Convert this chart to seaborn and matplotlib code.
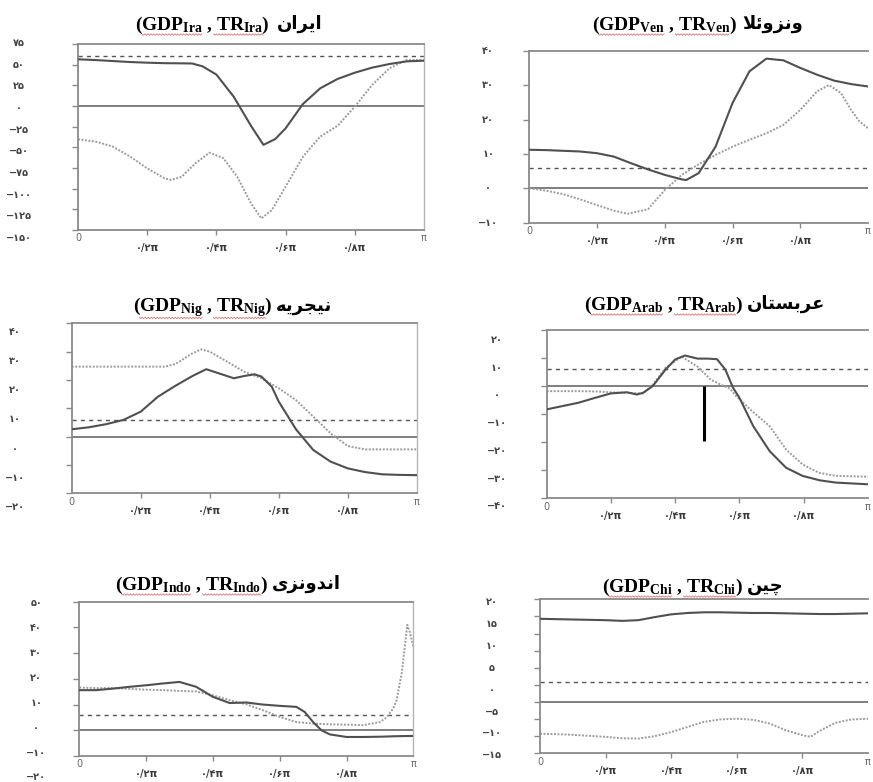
import matplotlib
matplotlib.use("Agg")
import matplotlib.pyplot as plt
from matplotlib.lines import Line2D
import seaborn as sns
import numpy as np

# ---------------- data (x in multiples of pi) ----------------
x_major_ticks = [0.2, 0.4, 0.6, 0.8]
x_end_ticks = [0.0, 1.0]
x_end_labels = ["0", "π"]

# Iran
iran_gdp_x = [0, 0.05, 0.1, 0.15, 0.2, 0.25, 0.3, 0.33, 0.36, 0.4, 0.45, 0.5, 0.536, 0.57, 0.6, 0.65, 0.7, 0.75, 0.8, 0.85, 0.9, 0.95, 1.0]
iran_gdp = [56.5, 55.6, 54.4, 53.2, 52.4, 51.8, 51.6, 51.4, 48, 38, 11.3, -24, -47, -40, -27, 2.4, 21.4, 32.7, 40.3, 46.4, 50.8, 54, 54.8]
iran_tr_x = [0, 0.05, 0.1, 0.15, 0.2, 0.25, 0.27, 0.3, 0.34, 0.38, 0.42, 0.46, 0.5, 0.53, 0.56, 0.6, 0.65, 0.7, 0.75, 0.8, 0.85, 0.9, 0.95, 1.0]
iran_tr = [-40.3, -43, -49, -61, -75.4, -87.5, -89.5, -85.5, -69, -56.5, -63, -85.5, -117.7, -136, -126, -97.6, -61.3, -37, -24, -0.8, 25.4, 45.6, 55.6, 55.6]
iran_ref = 60
iran_ylim = (-150, 75)
iran_ystep = 25
iran_ylabels = [75, 50, 25, 0, -25, -50, -75, -100, -125, -150]

# Venezuela
ven_gdp_x = [0, 0.05, 0.1, 0.15, 0.2, 0.25, 0.3, 0.35, 0.4, 0.45, 0.463, 0.5, 0.55, 0.6, 0.65, 0.7, 0.75, 0.8, 0.85, 0.9, 0.95, 1.0]
ven_gdp = [11.2, 11.1, 10.9, 10.7, 10.2, 9.2, 7.3, 5.5, 3.9, 2.6, 2.4, 4.4, 12.1, 24.8, 34.0, 37.7, 37.2, 35.0, 33.0, 31.3, 30.3, 29.6]
ven_tr_x = [0, 0.05, 0.1, 0.15, 0.2, 0.25, 0.29, 0.35, 0.4, 0.45, 0.5, 0.55, 0.6, 0.65, 0.7, 0.75, 0.8, 0.85, 0.885, 0.92, 0.95, 0.975, 1.0]
ven_tr = [0, -0.7, -1.7, -3.2, -4.9, -6.5, -7.4, -6.1, -0.5, 3.9, 7.0, 9.7, 12.1, 14.1, 16.0, 18.4, 22.8, 28.2, 30.0, 27.7, 22.8, 19.4, 17.5]
ven_ref = 6
ven_ylim = (-10, 40)
ven_ystep = 10
ven_ylabels = [40, 30, 20, 10, 0, -10]

# Nigeria
nig_gdp_x = [0, 0.05, 0.1, 0.15, 0.2, 0.25, 0.3, 0.35, 0.39, 0.45, 0.47, 0.5, 0.53, 0.55, 0.58, 0.6, 0.65, 0.7, 0.75, 0.8, 0.85, 0.9, 0.95, 1.0]
nig_gdp = [2.6, 3.3, 4.4, 5.9, 8.8, 14.1, 17.9, 21.4, 23.8, 21.4, 20.6, 21.4, 22.0, 21.2, 17.6, 12.4, 2.6, -4.7, -8.8, -11.2, -12.5, -13.3, -13.5, -13.6]
nig_tr_x = [0, 0.1, 0.2, 0.27, 0.3, 0.35, 0.375, 0.4, 0.45, 0.5, 0.55, 0.6, 0.65, 0.7, 0.75, 0.8, 0.85, 0.9, 1.0]
nig_tr = [24.7, 24.7, 24.7, 24.7, 25.6, 29.4, 30.8, 30.0, 26.5, 22.9, 20.6, 17.1, 12.9, 7.1, 1.2, -3.3, -4.5, -4.5, -4.5]
nig_ref = 6
nig_ylim = (-20, 40)
nig_ystep = 10
nig_ylabels = [40, 30, 20, 10, 0, -10, -20]

# Saudi Arabia
arab_gdp_x = [0, 0.05, 0.1, 0.15, 0.2, 0.25, 0.28, 0.3, 0.33, 0.37, 0.4, 0.43, 0.47, 0.5, 0.53, 0.556, 0.58, 0.6, 0.643, 0.694, 0.745, 0.796, 0.85, 0.9, 1.0]
arab_gdp = [-8.3, -7.1, -5.9, -4.2, -2.6, -2.2, -3.0, -2.4, 0, 5.9, 9.5, 10.9, 9.8, 9.8, 9.6, 5.9, -0.6, -4.2, -14.3, -23.2, -29.1, -32.0, -33.6, -34.4, -35.0]
arab_tr_x = [0, 0.1, 0.15, 0.2, 0.25, 0.3, 0.33, 0.37, 0.42, 0.47, 0.51, 0.54, 0.57, 0.59, 0.64, 0.694, 0.745, 0.796, 0.847, 0.9, 1.0]
arab_tr = [-1.8, -1.8, -1.9, -2.2, -2.4, -2.6, 0.5, 6.5, 10.5, 6.9, 2.4, 0.6, -0.9, -3.6, -9.0, -14.3, -22.6, -27.9, -30.9, -32.0, -32.3]
arab_ref = 6.2
arab_ylim = (-40, 20)
arab_ystep = 10
arab_ylabels = [20, 10, 0, -10, -20, -30, -40]
arab_bar_x = 0.49
arab_bar_y = (-19.5, 0.0)

# Indonesia
indo_gdp_x = [0, 0.05, 0.1, 0.15, 0.2, 0.25, 0.3, 0.35, 0.4, 0.45, 0.5, 0.55, 0.6, 0.65, 0.675, 0.7, 0.725, 0.75, 0.8, 0.85, 0.9, 0.95, 1.0]
indo_gdp = [15.6, 15.6, 16.2, 16.9, 17.5, 18.2, 18.8, 16.9, 13.0, 10.6, 10.8, 10.0, 9.5, 9.1, 7.1, 3.2, 0.0, -1.6, -2.6, -2.6, -2.5, -2.3, -2.2]
indo_tr_x = [0, 0.05, 0.1, 0.15, 0.2, 0.25, 0.3, 0.35, 0.4, 0.45, 0.5, 0.55, 0.6, 0.65, 0.7, 0.75, 0.8, 0.85, 0.9, 0.92, 0.94, 0.95, 0.965, 0.975, 0.982, 0.99, 1.0]
indo_tr = [16.6, 16.4, 16.4, 16.1, 15.8, 15.6, 15.3, 15.1, 13.6, 11.7, 10.1, 7.8, 5.2, 3.2, 2.6, 2.3, 2.2, 2.0, 3.2, 5.0, 8.5, 11.7, 22.0, 33.0, 41.0, 38.0, 32.5]
indo_ref = 6.1
indo_ylim = (-10, 50)
indo_ystep = 10
indo_ylabels = [50, 40, 30, 20, 10, 0, -10, -20]

# China
chi_gdp_x = [0, 0.05, 0.1, 0.15, 0.2, 0.25, 0.3, 0.35, 0.4, 0.45, 0.5, 0.55, 0.6, 0.65, 0.7, 0.75, 0.8, 0.85, 0.9, 0.95, 1.0]
chi_gdp = [24.3, 24.2, 24.1, 24.0, 23.9, 23.7, 23.9, 24.8, 25.6, 26.0, 26.2, 26.2, 26.1, 26.0, 26.0, 25.9, 25.8, 25.7, 25.7, 25.8, 25.9]
chi_tr_x = [0, 0.05, 0.1, 0.15, 0.2, 0.25, 0.3, 0.35, 0.4, 0.45, 0.5, 0.55, 0.6, 0.65, 0.7, 0.75, 0.8, 0.825, 0.85, 0.9, 0.95, 1.0]
chi_tr = [-9.3, -9.4, -9.6, -9.9, -10.2, -10.6, -10.7, -10.0, -8.8, -7.3, -5.8, -5.1, -4.9, -5.2, -6.3, -8.3, -9.7, -10.2, -8.6, -6.1, -5.1, -4.9]
chi_ref = 5.8
chi_ylim = (-15, 30)
chi_ystep = 5
chi_ylabels = [20, 15, 10, 5, 0, -5, -10, -15]

# titles: subscript code + Persian country name (pre-shaped presentation forms, visual order)
title_codes = ["Ira", "Ven", "Nig", "Arab", "Indo", "Chi"]
title_names = [
    "\uFEE5\uFE8D\uFEAE\uFEF3\uFE8D",                 # ایران
    "\uFEFC\uFE8B\uFEED\uFEB0\uFEE7\uFEED",           # ونزوئلا
    "\uFEEA\uFEF3\uFEAE\uFEA0\uFEF4\uFEE7",           # نیجریه
    "\uFEE5\uFE8E\uFE98\uFEB4\uFE91\uFEAE\uFECB",     # عربستان
    "\uFEEF\uFEB0\uFEE7\uFEED\uFEAA\uFEE7\uFE8D",     # اندونزی
    "\uFEE6\uFEF4\uFB7C",                             # چین
]

# ---------------- style ----------------
sns.set_theme(style="white")
plt.rcParams.update({
    "font.family": ["DejaVu Sans"],
    "mathtext.fontset": "custom",
    "mathtext.rm": "Liberation Serif:bold",
    "mathtext.it": "Liberation Serif:bold",
    "mathtext.bf": "Liberation Serif:bold",
    "axes.facecolor": "white",
    "figure.facecolor": "white",
})

W, H = 873, 782
fig = plt.figure(figsize=(W / 100, H / 100), dpi=100)

FA = str.maketrans("0123456789", "۰۱۲۳۴۵۶۷۸۹")


def fa_num(v):
    s = str(abs(v)).translate(FA)
    return ("−" + s) if v < 0 else s


SPINE = "#8a8a8a"
SOLID = "#505050"
DOTTED = "#9c9c9c"
TITLE_KW = dict(fontsize=14, family="Liberation Serif", fontweight="bold", color="black")
latin_titles = []


def panel(rect, ylim, ystep, ylabels, lab_map, lab_gap, gdp_x, gdp, tr_x, tr, ref,
          title_idx, title_pos, right_side):
    L, R, T, B = rect
    ax = fig.add_axes([L / W, 1 - B / H, (R - L) / W, (B - T) / H])
    ax.set_xlim(0, 1)
    ax.set_ylim(*ylim)

    ax.axhline(0, color="#6a6a6a", lw=1.2, zorder=1)
    ax.axhline(ref, color="#555555", lw=1.0, ls=(0, (3, 3)), zorder=1)
    sns.lineplot(x=tr_x, y=tr, ax=ax, color=DOTTED, lw=1.4, ls=(0, (1, 0.8)),
                 estimator=None, sort=False, zorder=2)
    sns.lineplot(x=gdp_x, y=gdp, ax=ax, color=SOLID, lw=1.5,
                 estimator=None, sort=False, zorder=3)

    for side in ["left", "top", "bottom"]:
        ax.spines[side].set_color(SPINE)
        ax.spines[side].set_linewidth(1.3)
    if right_side:
        ax.spines["right"].set_visible(False)
    else:
        ax.spines["right"].set_color("#b5b5b5")
        ax.spines["right"].set_linewidth(1.0)

    yt = np.arange(ylim[0], ylim[1] + ystep / 2, ystep)
    ax.set_yticks(yt)
    ax.set_yticklabels([])
    ax.tick_params(axis="y", which="major", direction="out", length=4.5, width=1,
                   color=SPINE, left=True)

    ax.set_xticks(x_major_ticks)
    ax.set_xticklabels([fa_num(0) + "/" + fa_num(int(round(v * 10))) + "π" for v in x_major_ticks])
    ax.set_xticks(x_end_ticks, minor=True)
    ax.set_xticklabels(x_end_labels, minor=True)
    ax.tick_params(axis="x", which="major", direction="out", length=3.5, width=1,
                   color=SPINE, pad=6, labelsize=7, labelcolor="#3a3a3a", bottom=True)
    for t in ax.get_xticklabels():
        t.set_fontweight("bold")
    ax.tick_params(axis="x", which="minor", length=0, pad=2.5, labelsize=7,
                   labelcolor="#666666", bottom=True)
    ax.set_xlabel("")
    ax.set_ylabel("")

    a, b = lab_map
    xfrac = -lab_gap / (R - L)
    for v in ylabels:
        ax.text(xfrac, a * v + b, fa_num(v), transform=ax.get_yaxis_transform(),
                ha="center", va="center", fontsize=7, fontweight="bold",
                color="#444444", clip_on=False)

    code = title_codes[title_idx]
    lx, px, ty = title_pos
    t = fig.text(lx / W, 1 - ty / H,
                 r"(GDP$_{\mathrm{%s}}$ , TR$_{\mathrm{%s}}$)" % (code, code),
                 ha="right", va="center", **TITLE_KW)
    latin_titles.append((t, code))
    fig.text(px / W, 1 - (ty - 1) / H, title_names[title_idx], ha="left", va="center",
             fontsize=13, family="DejaVu Sans", fontweight="bold", color="black")
    return ax


panel((78, 424, 44, 230), iran_ylim, iran_ystep, iran_ylabels, (1.048, -2.4), 59,
      iran_gdp_x, iran_gdp, iran_tr_x, iran_tr, iran_ref, 0, (270, 277, 25), False)
panel((529.3, 868, 50.7, 222.7), ven_ylim, ven_ystep, ven_ylabels, (1.0, 0.0), 41,
      ven_gdp_x, ven_gdp, ven_tr_x, ven_tr, ven_ref, 1, (737, 742, 25), True)
panel((71.7, 416.7, 323.3, 493.3), nig_ylim, nig_ystep, nig_ylabels, (1.032, -4.2), 57,
      nig_gdp_x, nig_gdp, nig_tr_x, nig_tr, nig_ref, 2, (272, 276, 307), False)
ax_arab = panel((546.7, 868, 330, 498.3), arab_ylim, arab_ystep, arab_ylabels, (0.99, -3.3), 50,
                arab_gdp_x, arab_gdp, arab_tr_x, arab_tr, arab_ref, 3, (743, 747, 305), True)
ax_arab.vlines(arab_bar_x, arab_bar_y[0], arab_bar_y[1], color="black", lw=2.2, zorder=4)
panel((79.3, 413.3, 601.7, 756), indo_ylim, indo_ystep, indo_ylabels, (0.97, 1.05), 43,
      indo_gdp_x, indo_gdp, indo_tr_x, indo_tr, indo_ref, 4, (268, 272, 585), False)
panel((540, 868, 599.3, 753.3), chi_ylim, chi_ystep, chi_ylabels, (1.279, 3.6), 48,
      chi_gdp_x, chi_gdp, chi_tr_x, chi_tr, chi_ref, 5, (743, 747, 587), True)

# spell-check style wavy red underlines under the Latin words of each title
fig.canvas.draw()
renderer = fig.canvas.get_renderer()


def text_width(s):
    tmp = fig.text(0, 0, s, **TITLE_KW)
    w = tmp.get_window_extent(renderer).width
    tmp.remove()
    return w


for t, code in latin_titles:
    bb = t.get_window_extent(renderer)
    w_open = text_width("(")
    w_gdp = text_width(r"(GDP$_{\mathrm{%s}}$" % code)
    w_mid = text_width(r"(GDP$_{\mathrm{%s}}$ , " % code)
    w_tr = text_width(r"(GDP$_{\mathrm{%s}}$ , TR$_{\mathrm{%s}}$" % (code, code))
    ybase = bb.y0 + 1.0
    for xa, xb in [(bb.x0 + w_open, bb.x0 + w_gdp), (bb.x0 + w_mid, bb.x0 + w_tr)]:
        xs = np.arange(xa, xb, 1.5)
        ys = ybase + np.where(np.arange(len(xs)) % 2 == 0, 0.7, -0.7)
        fig.add_artist(Line2D(xs / W, ys / H, transform=fig.transFigure,
                              color="#d9534f", lw=0.6, alpha=0.8))

fig.savefig("out.png", dpi=100)
